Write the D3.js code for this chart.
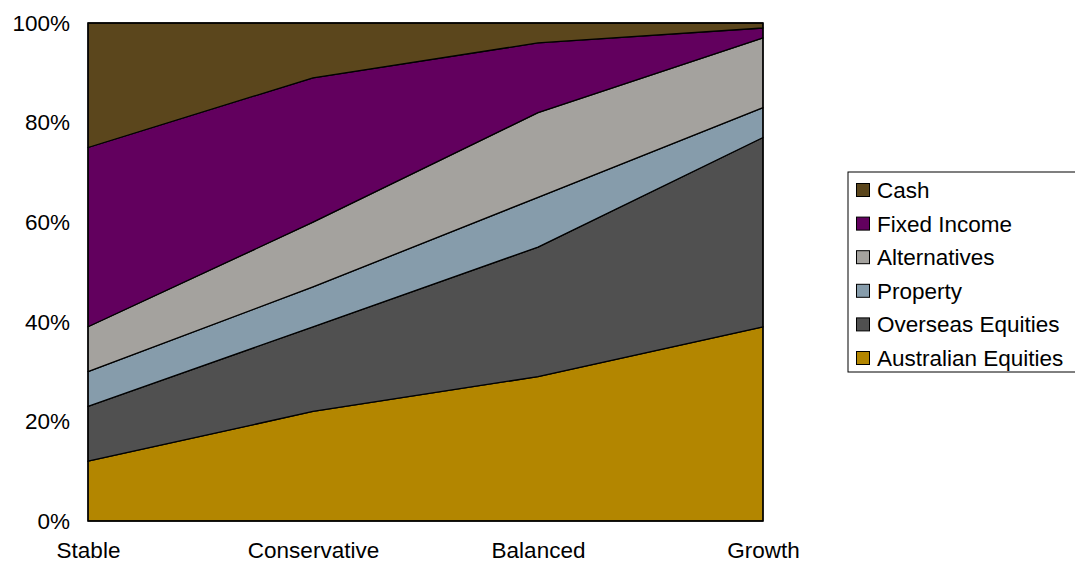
<!DOCTYPE html>
<html lang="en">
<head>
    <meta charset="UTF-8">
    <title>Asset Allocation by Option</title>
    <script src="https://d3js.org/d3.v7.min.js"></script>
    <style>
        body { margin: 0; background: #fff; }
        svg text { font-family: "Liberation Sans", Arial, sans-serif; fill: #000; }
    </style>
</head>
<body>
<svg id="chart" width="1075" height="568"></svg>
<script>
    // Categories and series (% of each option)
    const categories = ["Stable", "Conservative", "Balanced", "Growth"];
    const seriesNames = ["Australian Equities", "Overseas Equities", "Property", "Alternatives", "Fixed Income", "Cash"];
    const australianEquities = [12, 22, 29, 39];
    const overseasEquities   = [11, 17, 26, 38];
    const property           = [7, 8, 10, 6];
    const alternatives       = [9, 13, 17, 14];
    const fixedIncome        = [36, 29, 14, 2];
    const cash               = [25, 11, 4, 1];
    const yTicks = [0, 20, 40, 60, 80, 100];

    const colors = {
        "Australian Equities": "#b38600",
        "Overseas Equities": "#505050",
        "Property": "#869cab",
        "Alternatives": "#a4a29e",
        "Fixed Income": "#62005e",
        "Cash": "#5b461c"
    };

    const fontSize = "22.5px";

    const seriesValues = [australianEquities, overseasEquities, property, alternatives, fixedIncome, cash];
    const rows = categories.map((c, i) => {
        const row = { category: c };
        seriesNames.forEach((s, j) => row[s] = seriesValues[j][i]);
        return row;
    });

    const svg = d3.select("#chart");
    const margin = { left: 88, top: 23, right: 312, bottom: 47 };
    const width = 1075, height = 568;

    const x = d3.scalePoint()
        .domain(categories)
        .range([margin.left, width - margin.right]);

    const y = d3.scaleLinear()
        .domain([0, 100])
        .range([height - margin.bottom, margin.top]);

    const stack = d3.stack().keys(seriesNames);
    const series = stack(rows);

    const area = d3.area()
        .x(d => x(d.data.category))
        .y0(d => y(d[0]))
        .y1(d => y(d[1]));

    // stacked areas
    svg.append("g")
        .selectAll("path")
        .data(series)
        .join("path")
        .attr("fill", d => colors[d.key])
        .attr("stroke", "#000")
        .attr("stroke-width", 1.3)
        .attr("stroke-linejoin", "round")
        .attr("d", area);

    // plot frame
    svg.append("rect")
        .attr("x", margin.left)
        .attr("y", margin.top)
        .attr("width", x.range()[1] - margin.left)
        .attr("height", y(0) - margin.top)
        .attr("fill", "none")
        .attr("stroke", "#000")
        .attr("stroke-width", 1.3);

    // y axis labels (no ticks)
    const yAxis = svg.append("g")
        .attr("transform", `translate(${margin.left},0)`)
        .call(d3.axisLeft(y).tickValues(yTicks).tickSize(0).tickPadding(18).tickFormat(d => d + "%"));
    yAxis.select(".domain").remove();
    yAxis.selectAll("text").attr("font-size", fontSize).attr("font-family", "Liberation Sans, Arial, sans-serif");

    // x axis labels
    const xAxis = svg.append("g")
        .attr("transform", `translate(0,${y(0)})`)
        .call(d3.axisBottom(x).tickSize(0).tickPadding(21));
    xAxis.select(".domain").remove();
    xAxis.selectAll("text").attr("font-size", fontSize).attr("font-family", "Liberation Sans, Arial, sans-serif");

    // legend
    const legend = svg.append("g").attr("transform", "translate(848,172)");
    legend.append("rect")
        .attr("width", 240)
        .attr("height", 200)
        .attr("fill", "#fff")
        .attr("stroke", "#000")
        .attr("stroke-width", 1);

    const legendOrder = seriesNames.slice().reverse();
    const item = legend.selectAll("g.item")
        .data(legendOrder)
        .join("g")
        .attr("class", "item")
        .attr("transform", (d, i) => `translate(0,${11 + i * 33.6})`);
    item.append("rect")
        .attr("x", 8.5)
        .attr("y", 0.5)
        .attr("width", 13)
        .attr("height", 13)
        .attr("fill", d => colors[d])
        .attr("stroke", "#000")
        .attr("stroke-width", 1);
    item.append("text")
        .attr("x", 29)
        .attr("y", 15)
        .attr("font-size", fontSize)
        .text(d => d);
</script>
</body>
</html>
